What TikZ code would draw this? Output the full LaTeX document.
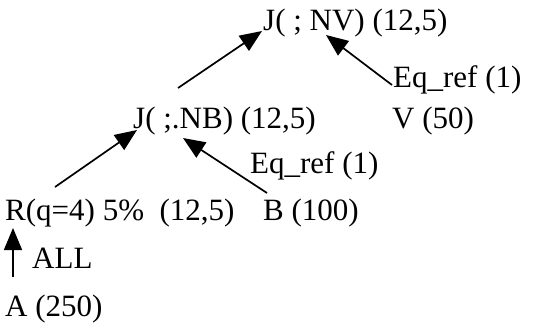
\documentclass[tikz,border=0pt]{standalone}
\usepackage{fontspec}
\setmainfont{Liberation Serif}
\usetikzlibrary{arrows.meta}
\tikzset{
  lbl/.style={inner sep=0pt, anchor=base west, font=\fontsize{31}{36}\selectfont},
  arr/.style={line width=1.7pt, -{Triangle[length=22pt,width=18pt]}}
}
\begin{document}
\begin{tikzpicture}[x=1pt,y=1pt]
\useasboundingbox (0,0) rectangle (534,325);
\node[lbl] (jnv) at (263,295) {J( ; NV) (12,5)};
\node[lbl] (eqa) at (393,238) {Eq\_ref (1)};
\node[lbl] (v) at (392,197) {V (50)};
\node[lbl] (jnb) at (133,197) {J( ;.NB) (12,5)};
\node[lbl] (eqb) at (250,152) {Eq\_ref (1)};
\node[lbl] (r) at (5,105) {R(q=4) 5\%\ \ (12,5)};
\node[lbl] (b) at (263,105) {B (100)};
\node[lbl] (all) at (32,57) {ALL};
\node[lbl] (a) at (5,9) {A (250)};
\coordinate (s1) at (178,237);
\coordinate (t1) at (262,294);
\coordinate (s2) at (392,240);
\coordinate (t2) at (326,290);
\coordinate (s3) at (55,138);
\coordinate (t3) at (137,195);
\coordinate (s4) at (267,132);
\coordinate (t4) at (183,187);
\coordinate (s5) at (13,48);
\coordinate (t5) at (13,97);
\draw[arr] (s1) -- (t1);
\draw[arr] (s2) -- (t2);
\draw[arr] (s3) -- (t3);
\draw[arr] (s4) -- (t4);
\draw[arr] (s5) -- (t5);
\end{tikzpicture}
\end{document}
